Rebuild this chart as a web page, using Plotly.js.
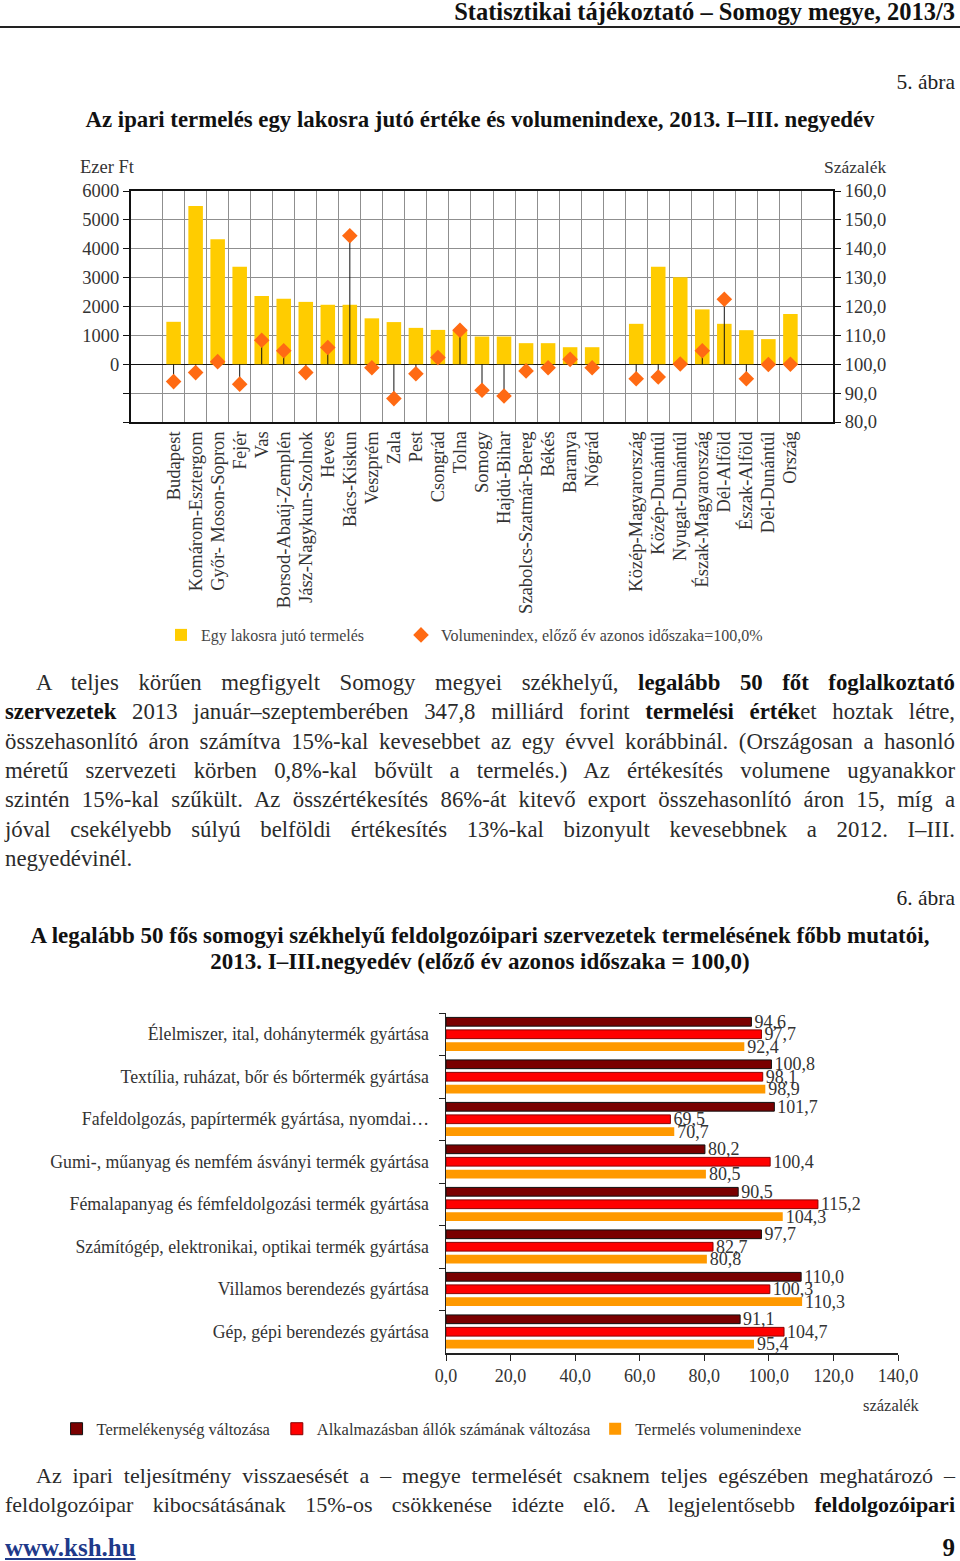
<!DOCTYPE html>
<html><head><meta charset="utf-8">
<script src="https://cdn.plot.ly/plotly-3.0.1.min.js"></script>
<style>
html,body{margin:0;padding:0;background:#fff}
body{width:960px;height:1561px;position:relative;overflow:hidden;font-family:"Liberation Serif","DejaVu Serif",serif;color:#2b2b2b}
.abs{position:absolute}
.hdr{right:5px;top:-1px;font-size:24.5px;font-weight:bold;line-height:26px;color:#111;white-space:nowrap}
.rule{left:0;top:26px;width:960px;height:2px;background:#222}
.fig{right:5px;font-size:21.5px;line-height:24px;color:#222}
.ttl{left:0;width:960px;text-align:center;font-weight:bold;line-height:26px;color:#111;white-space:nowrap}
.ln{left:5px;width:950px;font-size:22.8px;line-height:29px;height:29px;text-align:justify;text-align-last:justify;white-space:nowrap;overflow:visible}
.ln.last{text-align-last:left}
.ln.p2{font-size:22px}
.ln b{color:#111}
.foot{font-size:25px;font-weight:bold;line-height:28px}
</style></head>
<body>
<div class="abs hdr">Statisztikai tájékoztató – Somogy megye, 2013/3</div>
<div class="abs rule"></div>
<div class="abs fig" style="top:70px">5. ábra</div>
<div class="abs ttl" style="top:107px;font-size:22.8px">Az ipari termelés egy lakosra jutó értéke és volumenindexe, 2013. I–III. negyedév</div>
<div id="chart1" class="abs" style="left:0;top:150px;width:960px;height:500px"></div>

<div class="abs ln" style="top:668px;padding-left:31px;width:919px">A teljes körűen megfigyelt Somogy megyei székhelyű, <b>legalább 50 főt foglalkoztató</b></div>
<div class="abs ln" style="top:697px"><b>szervezetek</b> 2013 január–szeptemberében 347,8 milliárd forint <b>termelési érték</b>et hoztak létre,</div>
<div class="abs ln" style="top:727px">összehasonlító áron számítva 15%-kal kevesebbet az egy évvel korábbinál. (Országosan a hasonló</div>
<div class="abs ln" style="top:756px">méretű szervezeti körben 0,8%-kal bővült a termelés.) Az értékesítés volumene ugyanakkor</div>
<div class="abs ln" style="top:785px">szintén 15%-kal szűkült. Az összértékesítés 86%-át kitevő export összehasonlító áron 15, míg a</div>
<div class="abs ln" style="top:815px">jóval csekélyebb súlyú belföldi értékesítés 13%-kal bizonyult kevesebbnek a 2012. I–III.</div>
<div class="abs ln last" style="top:844px">negyedévinél.</div>

<div class="abs fig" style="top:886px">6. ábra</div>
<div class="abs ttl" style="top:923px;font-size:23px">A legalább 50 fős somogyi székhelyű feldolgozóipari szervezetek termelésének főbb mutatói,</div>
<div class="abs ttl" style="top:949px;font-size:23px">2013. I–III.negyedév (előző év azonos időszaka = 100,0)</div>
<div id="chart2" class="abs" style="left:0;top:990px;width:960px;height:470px"></div>

<div class="abs ln p2" style="top:1461px;padding-left:31px;width:919px">Az ipari teljesítmény visszaesését a – megye termelését csaknem teljes egészében meghatározó –</div>
<div class="abs ln p2" style="top:1490px">feldolgozóipar kibocsátásának 15%-os csökkenése idézte elő. A legjelentősebb <b>feldolgozóipari</b></div>

<div class="abs foot" style="left:5px;top:1534px;color:#1f3a8a;text-decoration:underline">www.ksh.hu</div>
<div class="abs foot" style="right:5px;top:1534px;color:#111">9</div>

<script>
// ---------- Chart 1 data ----------
var counties = ['Budapest','Komárom-Esztergom','Győr- Moson-Sopron','Fejér','Vas','Borsod-Abaúj-Zemplén','Jász-Nagykun-Szolnok','Heves','Bács-Kiskun','Veszprém','Zala','Pest','Csongrád','Tolna','Somogy','Hajdú-Bihar','Szabolcs-Szatmár-Bereg','Békés','Baranya','Nógrád',' ','Közép-Magyarország','Közép-Dunántúl','Nyugat-Dunántúl','Észak-Magyarország','Dél-Alföld','Észak-Alföld','Dél-Dunántúl','Ország'];
var perCapita = [1470,5480,4330,3380,2360,2270,2160,2060,2060,1590,1460,1260,1190,1150,960,960,730,730,590,590,null,1400,3380,3010,1900,1400,1180,870,1740];
var volumeIndex = [94.0,97.1,100.9,93.1,108.3,104.7,97.1,105.8,144.5,98.8,88.1,96.7,102.3,111.8,91.0,89.0,97.7,98.8,101.7,98.8,null,95.0,95.6,100.1,104.7,122.5,95.0,99.9,100.0];
var leftTicks = [-2000,-1000,0,1000,2000,3000,4000,5000,6000];
var leftTickText = ['','','0','1000','2000','3000','4000','5000','6000'];
var baseIndex = 100;

// ---------- Chart 2 data ----------
var industries = ['Élelmiszer, ital, dohánytermék gyártása','Textília, ruházat, bőr és bőrtermék gyártása','Fafeldolgozás, papírtermék gyártása, nyomdai…','Gumi-, műanyag és nemfém ásványi termék gyártása','Fémalapanyag és fémfeldolgozási termék gyártása','Számítógép, elektronikai, optikai termék gyártása','Villamos berendezés gyártása','Gép, gépi berendezés gyártása'];
var productivity = [94.6,100.8,101.7,80.2,90.5,97.7,110.0,91.1];
var employment = [97.7,98.1,69.5,100.4,115.2,82.7,100.3,104.7];
var productionVolume = [92.4,98.9,70.7,80.5,104.3,80.8,110.3,95.4];

// fit justified lines so none overflow
document.querySelectorAll('.ln').forEach(function(el){
  var fs = parseFloat(getComputedStyle(el).fontSize);
  var guard = 0;
  while (el.scrollWidth > el.clientWidth + 1 && guard < 40) { fs -= 0.2; el.style.fontSize = fs + 'px'; guard++; }
});

var serif = 'Liberation Serif, DejaVu Serif, serif';

var stemUp = volumeIndex.map(function(v){ return v === null ? 0 : (v < baseIndex ? baseIndex - v : 0); });
var stemDown = volumeIndex.map(function(v){ return v === null ? 0 : (v > baseIndex ? v - baseIndex : 0); });

Plotly.newPlot('chart1', [
  {type:'bar', name:'Egy lakosra jutó termelés', x:counties, y:perCapita, yaxis:'y',
   marker:{color:'#FFCC00'}, legend:'legend'},
  {type:'scatter', mode:'markers', name:'Volumenindex, előző év azonos időszaka=100,0%', x:counties, y:volumeIndex, yaxis:'y2',
   marker:{symbol:'diamond', size:12, color:'#FF6A13'}, legend:'legend2',
   error_y:{type:'data', symmetric:false, array:stemUp, arrayminus:stemDown, width:0, thickness:1, color:'#111'},
   cliponaxis:false}
], {
  width:960, height:500,
  margin:{l:131, r:127, t:41, b:228, autoexpand:false},
  paper_bgcolor:'#fff', plot_bgcolor:'#fff',
  separators:', ',
  bargap:0.34,
  font:{family:serif, color:'#333', size:18},
  showlegend:true,
  legend:{orientation:'h', x:0.0427, xanchor:'left', y:-0.922, yanchor:'middle',
          font:{size:16, color:'#444', family:serif}, bgcolor:'rgba(0,0,0,0)'},
  legend2:{orientation:'h', x:0.3846, xanchor:'left', y:-0.922, yanchor:'middle',
          font:{size:16, color:'#444', family:serif}, bgcolor:'rgba(0,0,0,0)'},
  xaxis:{type:'category', tickmode:'linear', tick0:0, dtick:1, tickson:'boundaries', ticks:'', showgrid:true, gridcolor:'#8f8f8f', gridwidth:1,
         tickangle:-90, tickfont:{size:18.5, color:'#333'}, showline:true, linecolor:'#111', linewidth:2, mirror:true,
         zeroline:false, automargin:false},
  yaxis:{range:[-2000,6000], tickvals:leftTicks, ticktext:leftTickText, showgrid:true, gridcolor:'#8f8f8f', gridwidth:1,
         zeroline:true, zerolinecolor:'#111', zerolinewidth:1.5, showline:true, linecolor:'#111', linewidth:2,
         ticks:'outside', ticklen:6, tickcolor:'#111', tickfont:{size:18.5, color:'#333'}, automargin:false},
  yaxis2:{range:[80,160], dtick:10, tick0:80, tickformat:'.1f', overlaying:'y', side:'right', showgrid:false,
          zeroline:false, showline:true, linecolor:'#111', linewidth:2, ticks:'outside', ticklen:6, tickcolor:'#111',
          tickfont:{size:18.5, color:'#333'}, automargin:false},
  annotations:[
    {text:'Ezer Ft', xref:'paper', yref:'paper', x:-0.0755, y:1.104, xanchor:'left', yanchor:'middle', showarrow:false, font:{size:18.5, color:'#333'}},
    {text:'Százalék', xref:'paper', yref:'paper', x:0.984, y:1.104, xanchor:'left', yanchor:'middle', showarrow:false, font:{size:17.5, color:'#333'}}
  ]
}, {staticPlot:true});

var barCommon = {type:'bar', orientation:'h', y:industries, textposition:'outside', texttemplate:'%{x:.1f}',
  constraintext:'none', cliponaxis:false, textfont:{size:18, color:'#333', family:serif}};

Plotly.newPlot('chart2', [
  Object.assign({}, barCommon, {name:'Termelékenység változása', x:productivity, legend:'legend', marker:{color:'#7A0000', line:{color:'#111', width:1}}}),
  Object.assign({}, barCommon, {name:'Alkalmazásban állók számának változása', x:employment, legend:'legend2', marker:{color:'#FF0000', line:{color:'#8a0000', width:1}}}),
  Object.assign({}, barCommon, {name:'Termelés volumenindexe', x:productionVolume, legend:'legend3', marker:{color:'#FF9900', line:{width:0}}})
], {
  width:960, height:470,
  margin:{l:446, r:62, t:23, b:107, autoexpand:false},
  paper_bgcolor:'#fff', plot_bgcolor:'#fff',
  separators:', ',
  barmode:'group', bargap:0.12, bargroupgap:0.3,
  font:{family:serif, color:'#333', size:16},
  showlegend:true,
  legend:{orientation:'h', x:-0.8616, xanchor:'left', y:-0.2235, yanchor:'middle',
          font:{size:16.5, color:'#333', family:serif}, bgcolor:'rgba(0,0,0,0)'},
  legend2:{orientation:'h', x:-0.3743, xanchor:'left', y:-0.2235, yanchor:'middle',
          font:{size:16.5, color:'#333', family:serif}, bgcolor:'rgba(0,0,0,0)'},
  legend3:{orientation:'h', x:0.330, xanchor:'left', y:-0.2235, yanchor:'middle',
          font:{size:16.5, color:'#333', family:serif}, bgcolor:'rgba(0,0,0,0)'},
  xaxis:{range:[0,140], dtick:20, tick0:0, tickformat:'.1f', showgrid:false, zeroline:false, showline:true,
         linecolor:'#222', linewidth:1.5, ticks:'outside', ticklen:6, tickcolor:'#222', tickfont:{size:18, color:'#333'}, automargin:false},
  yaxis:{type:'category', autorange:'reversed', tickson:'boundaries', ticks:'outside', ticklen:6, tickcolor:'#222',
         showgrid:false, zeroline:false, showline:true, linecolor:'#222', linewidth:1.5, tickfont:{size:17.8, color:'#333'},
         ticklabelstandoff:12, automargin:false},
  annotations:[
    {text:'százalék', xref:'paper', yref:'paper', x:0.9856, y:-0.153, xanchor:'center', yanchor:'middle', showarrow:false, font:{size:16.5, color:'#333'}}
  ]
}, {staticPlot:true});
</script>
</body></html>
